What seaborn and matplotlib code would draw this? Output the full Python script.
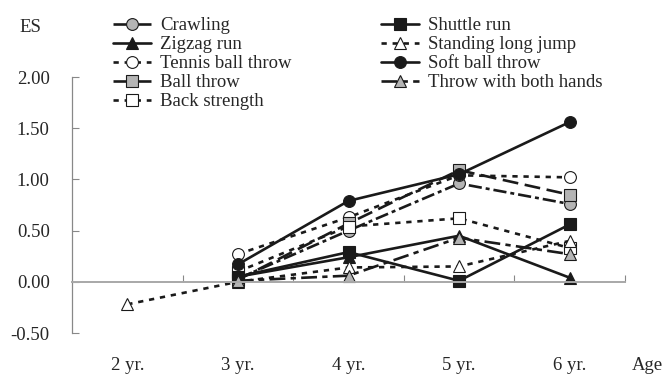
import matplotlib
matplotlib.use("Agg")
import matplotlib.pyplot as plt
import matplotlib.transforms as mtransforms
import numpy as np
import seaborn as sns

# Effect size (ES) by age
ages = ["2 yr.", "3 yr.", "4 yr.", "5 yr.", "6 yr."]
crawling = [np.nan, 0.03, 0.50, 0.96, 0.76]
zigzag_run = [np.nan, 0.05, 0.24, 0.45, 0.04]
tennis_ball_throw = [np.nan, 0.27, 0.63, 1.04, 1.02]
ball_throw = [np.nan, 0.02, 0.57, 1.09, 0.85]
back_strength = [np.nan, 0.10, 0.54, 0.62, 0.33]
shuttle_run = [np.nan, 0.05, 0.29, 0.01, 0.56]
standing_long_jump = [-0.22, 0.00, 0.14, 0.15, 0.40]
soft_ball_throw = [np.nan, 0.17, 0.79, 1.05, 1.56]
throw_both_hands = [np.nan, 0.01, 0.06, 0.43, 0.27]

series = [
    ("Crawling", crawling),
    ("Zigzag run", zigzag_run),
    ("Tennis ball throw", tennis_ball_throw),
    ("Ball throw", ball_throw),
    ("Back strength", back_strength),
    ("Shuttle run", shuttle_run),
    ("Standing long jump", standing_long_jump),
    ("Soft ball throw", soft_ball_throw),
    ("Throw with both hands", throw_both_hands),
]

GRAY = "#b4b4b4"
DARK = "#1a1a1a"
styles = {
    "Crawling": dict(marker="o", mfc=GRAY, ls=(0, (5, 1.5, 1.5, 1.5))),
    "Zigzag run": dict(marker="^", mfc=DARK, ls="-"),
    "Tennis ball throw": dict(marker="o", mfc="white", ls=(0, (2, 2.2))),
    "Ball throw": dict(marker="s", mfc=GRAY, ls=(0, (6, 2.5))),
    "Back strength": dict(marker="s", mfc="white", ls=(0, (2, 2.2))),
    "Shuttle run": dict(marker="s", mfc=DARK, ls="-"),
    "Standing long jump": dict(marker="^", mfc="white", ls=(0, (2, 2.2))),
    "Soft ball throw": dict(marker="o", mfc=DARK, ls="-"),
    "Throw with both hands": dict(marker="^", mfc=GRAY, ls=(0, (6, 2, 2, 2))),
}

FS = 13.5

sns.set_theme(style="white")
plt.rcParams["font.family"] = ["Liberation Serif", "DejaVu Serif"]

fig = plt.figure(figsize=(6.67, 3.74), dpi=100)
ax = fig.add_axes([72 / 667, 1 - 333 / 374, (625 - 72) / 667, (333 - 77) / 374])

x = np.arange(len(ages))
for name, vals in series:
    st = styles[name]
    sns.lineplot(
        x=x, y=vals, ax=ax, label=name, color=DARK, linewidth=1.9,
        linestyle=st["ls"], marker=st["marker"], markersize=8.5,
        markerfacecolor=st["mfc"], markeredgecolor=DARK, markeredgewidth=0.8,
    )

ax.set_xlim(-0.5, len(ages) - 0.5)
ax.set_ylim(-0.5, 2.0)
yt = [-0.5, 0.0, 0.5, 1.0, 1.5, 2.0]
ax.set_yticks(yt)
ax.set_yticklabels([f"{v:.2f}" for v in yt], fontsize=FS)
ax.tick_params(axis="y", direction="in", length=5, width=0.8, color="#888888", pad=16, left=True)

for s in ["top", "right"]:
    ax.spines[s].set_visible(False)
ax.spines["left"].set_color("#888888")
ax.spines["left"].set_linewidth(0.9)
ax.spines["bottom"].set_position(("data", 0))
ax.spines["bottom"].set_color("#a8a8a8")
ax.spines["bottom"].set_linewidth(1.4)
ax.set_xticks(np.arange(len(ages)) + 0.5)
ax.set_xticklabels([])
ax.tick_params(axis="x", direction="in", length=5, width=0.8, color="#888888", bottom=True)

trans = mtransforms.blended_transform_factory(ax.transData, ax.transAxes)
for i, lab in enumerate(ages):
    ax.text(i, -33 / 256, lab, transform=trans, ha="center", va="center", fontsize=FS)

ax.set_xlabel("")
ax.set_ylabel("")
fig.text(30 / 667, 1 - 28 / 374, "ES", ha="center", va="center", fontsize=FS)
fig.text(647 / 667, 1 - 365 / 374, "Age", ha="center", va="center", fontsize=FS)

ax.legend(
    loc="upper left", bbox_to_anchor=(113 / 667, 1 - 17 / 374),
    bbox_transform=fig.transFigure, ncol=2, frameon=False,
    fontsize=FS, handlelength=2.0, handletextpad=0.5,
    labelspacing=0.1, columnspacing=4.8, borderpad=0, borderaxespad=0,
)

fig.savefig("out.png", dpi=100)
plt.close(fig)
